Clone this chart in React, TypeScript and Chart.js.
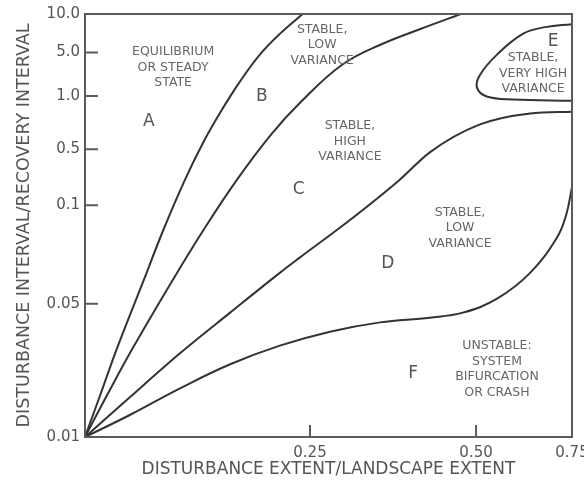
import React, { useEffect, useRef } from "react";
import { Chart, registerables } from "chart.js";

Chart.register(...registerables);

// Axis calibration (positions on the figure's 0-100 plotting scale) and tick labels
const xTickPositions = [46.2, 80.3, 100];
const xTickLabels = ["0.25", "0.50", "0.75"];
const yTickPositions = [0, 31.5, 54.8, 68.0, 80.6, 90.9, 100];
const yTickLabels = ["0.01", "0.05", "0.1", "0.5", "1.0", "5.0", "10.0"];

// Boundary between A and B
const boundaryAB_x = [0, 2.96, 6.65, 12.0, 16.0, 20.4, 24.4, 27.5, 31.8, 35.9, 40.0, 44.7];
const boundaryAB_y = [0, 9.4, 21.2, 36.9, 48.7, 60.5, 69.9, 76.2, 84.0, 90.4, 95.3, 100];

// Boundary between B and C
const boundaryBC_x = [0, 4.3, 9.9, 17.9, 24.2, 31.0, 38.2, 44.4, 52.8, 61.0, 69.0, 77.2];
const boundaryBC_y = [0, 9.4, 21.2, 36.9, 48.7, 60.5, 71.5, 79.3, 88.0, 92.9, 96.5, 100];

// Boundary between C and D
const boundaryCD_x = [0, 9.2, 19.5, 29.8, 40.0, 44.1, 54.4, 64.7, 70.8, 81.1, 91.4, 100];
const boundaryCD_y = [0, 9.4, 19.8, 29.4, 38.8, 42.4, 51.3, 60.9, 67.3, 73.9, 76.5, 76.9];

// Boundary between D and F
const boundaryDF_x = [0, 9.2, 19.5, 29.8, 40.0, 50.3, 60.6, 70.8, 77.6, 84.6, 91.4, 96.9, 98.8, 100];
const boundaryDF_y = [0, 5.2, 11.5, 17.2, 21.6, 24.9, 27.1, 28.2, 29.4, 32.7, 38.8, 47.1, 52.5, 59.1];

// Outline of region E
const regionE_x = [100, 94.5, 89.9, 84.6, 81.1, 80.5, 82.5, 87.9, 100];
const regionE_y = [97.6, 96.9, 95.3, 90.4, 85.6, 82.6, 80.5, 79.8, 79.5];

// Region letters
const regionLetters = ["A", "B", "C", "D", "E", "F"];
const regionLetterX = [13.1, 36.3, 43.9, 62.2, 96.1, 67.4];
const regionLetterY = [74.6, 80.5, 58.6, 40.9, 93.4, 15.1];

// Region descriptions
const regionNotes = [
  ["EQUILIBRIUM", "OR STEADY", "STATE"],
  ["STABLE,", "LOW", "VARIANCE"],
  ["STABLE,", "HIGH", "VARIANCE"],
  ["STABLE,", "LOW", "VARIANCE"],
  ["STABLE,", "VERY HIGH", "VARIANCE"],
  ["UNSTABLE:", "SYSTEM", "BIFURCATION", "OR CRASH"],
];
const regionNoteX = [18.1, 48.7, 54.4, 77.0, 92.0, 84.6];
const regionNoteY = [87.3, 92.7, 69.9, 49.4, 85.9, 16.0];

const FONT = "'DejaVu Sans', 'Liberation Sans', sans-serif";

const pairs = (xs: number[], ys: number[]) => xs.map((x, i) => ({ x, y: ys[i] }));

const overlayPlugin = {
  id: "overlay",
  afterDatasetsDraw(chart: any) {
    const { ctx, chartArea: a, scales } = chart;
    const xs = scales.x;
    const ys = scales.y;
    ctx.save();
    ctx.strokeStyle = "#5a5a5a";
    ctx.lineWidth = 2;
    ctx.strokeRect(a.left, a.top, a.right - a.left, a.bottom - a.top);
    ctx.beginPath();
    yTickPositions.forEach((v) => {
      const py = ys.getPixelForValue(v);
      ctx.moveTo(a.left, py);
      ctx.lineTo(a.left + 13, py);
    });
    xTickPositions.forEach((v) => {
      const px = xs.getPixelForValue(v);
      ctx.moveTo(px, a.bottom);
      ctx.lineTo(px, a.bottom - 12);
    });
    ctx.stroke();

    ctx.textAlign = "center";
    ctx.textBaseline = "middle";
    ctx.fillStyle = "#555";
    ctx.font = `17px ${FONT}`;
    regionLetters.forEach((t, i) => {
      ctx.fillText(t, xs.getPixelForValue(regionLetterX[i]), ys.getPixelForValue(regionLetterY[i]));
    });
    ctx.fillStyle = "#666";
    ctx.font = `12.5px ${FONT}`;
    const lh = 15.5;
    regionNotes.forEach((lines, i) => {
      const cx = xs.getPixelForValue(regionNoteX[i]);
      const cy = ys.getPixelForValue(regionNoteY[i]);
      const start = cy - ((lines.length - 1) * lh) / 2;
      lines.forEach((ln, j) => ctx.fillText(ln, cx, start + j * lh));
    });
    ctx.restore();
  },
};

export default function App() {
  const ref = useRef<HTMLCanvasElement>(null);
  useEffect(() => {
    const lineStyle = {
      borderColor: "#333",
      borderWidth: 2,
      pointRadius: 0,
      fill: false,
      tension: 0.4,
    };
    const monotone = { ...lineStyle, cubicInterpolationMode: "monotone" };
    const chart = new Chart(ref.current as HTMLCanvasElement, {
      type: "line",
      data: {
        datasets: [
          { label: "A/B", data: pairs(boundaryAB_x, boundaryAB_y), ...lineStyle },
          { label: "B/C", data: pairs(boundaryBC_x, boundaryBC_y), ...lineStyle },
          { label: "C/D", data: pairs(boundaryCD_x, boundaryCD_y), ...monotone },
          { label: "D/F", data: pairs(boundaryDF_x, boundaryDF_y), ...lineStyle },
          { label: "E", data: pairs(regionE_x, regionE_y), ...lineStyle },
        ],
      },
      options: {
        animation: false,
        responsive: false,
        devicePixelRatio: 1,
        layout: { padding: { top: 12, right: 12, left: 0, bottom: 0 } },
        plugins: { legend: { display: false }, tooltip: { enabled: false } },
        scales: {
          x: {
            type: "linear",
            min: 0,
            max: 100,
            grid: { display: false, drawTicks: false },
            border: { display: false },
            afterBuildTicks: (s: any) => {
              s.ticks = xTickPositions.map((v) => ({ value: v }));
            },
            afterFit: (s: any) => {
              s.height = 48;
              s.paddingLeft = 0;
              s.paddingRight = 0;
            },
            ticks: {
              autoSkip: false,
              maxRotation: 0,
              padding: 7,
              color: "#555",
              font: { family: FONT, size: 15 },
              callback: (v: any) => xTickLabels[xTickPositions.indexOf(Number(v))],
            },
            title: {
              display: true,
              text: "DISTURBANCE EXTENT/LANDSCAPE EXTENT",
              color: "#555",
              font: { family: FONT, size: 17 },
              padding: { top: 0, bottom: 5 },
            },
          },
          y: {
            type: "linear",
            min: 0,
            max: 100,
            grid: { display: false, drawTicks: false },
            border: { display: false },
            afterBuildTicks: (s: any) => {
              s.ticks = yTickPositions.map((v) => ({ value: v }));
            },
            afterFit: (s: any) => {
              s.width = 85;
            },
            ticks: {
              autoSkip: false,
              padding: 5,
              color: "#555",
              font: { family: FONT, size: 15 },
              callback: (v: any) => yTickLabels[yTickPositions.indexOf(Number(v))],
            },
            title: {
              display: true,
              text: "DISTURBANCE INTERVAL/RECOVERY INTERVAL",
              color: "#555",
              font: { family: FONT, size: 17.5 },
              padding: { top: 14, bottom: 0 },
            },
          },
        },
      },
      plugins: [overlayPlugin],
    } as any);
    return () => chart.destroy();
  }, []);
  return (
    <div style={{ position: "absolute", left: 0, top: 0, width: 584, height: 485, background: "#fff" }}>
      <canvas ref={ref} width={584} height={485} style={{ display: "block" }} />
    </div>
  );
}
